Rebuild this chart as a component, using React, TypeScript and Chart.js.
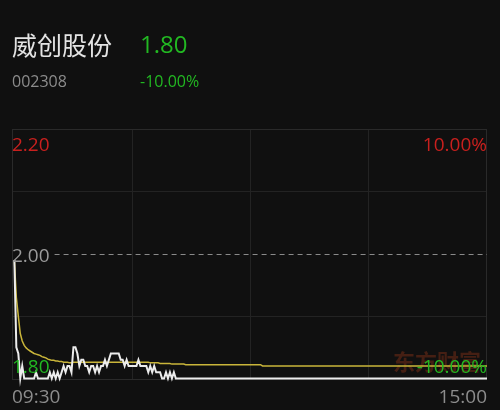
import React, { useEffect, useRef } from "react";
import { Chart, registerables } from "chart.js";

Chart.register(...registerables);

// Quote header
const stockName = "威创股份";
const stockCode = "002308";
const lastPrice = "1.80";
const changePct = "-10.00%";
const watermark = "东方财富";

// Price axis: previous close and daily limits
const prevClose = 2.0;
const priceHigh = 2.2;
const priceLow = 1.8;
const priceLevels = [2.2, 2.0, 1.8];
const priceLabels = ["2.20", "2.00", "1.80"];
const pctLabels = ["10.00%", "-10.00%"];
const gridPrices = [2.1, 1.9];

// Time axis: minutes since the open (240 trading minutes)
const gridMinutes = [60, 120, 180];
const timeLabels = ["09:30", "15:00"];

// Last price, one value per minute
const minutePrice = [
  1.99, 1.85, 1.84, 1.80, 1.82, 1.80, 1.80, 1.80, 1.80, 1.80, 1.80, 1.81, 1.80, 1.80, 1.80, 1.80, 1.80, 1.80, 1.81, 1.80,
  1.81, 1.80, 1.81, 1.80, 1.81, 1.82, 1.81, 1.82, 1.82, 1.81, 1.85, 1.85, 1.84, 1.82, 1.83, 1.83, 1.82, 1.82, 1.81, 1.82,
  1.82, 1.81, 1.82, 1.81, 1.82, 1.82, 1.83, 1.82, 1.83, 1.84, 1.84, 1.84, 1.84, 1.84, 1.83, 1.83, 1.82, 1.83, 1.82, 1.82,
  1.82, 1.82, 1.82, 1.83, 1.82, 1.82, 1.82, 1.82, 1.81, 1.82, 1.81, 1.82, 1.81, 1.81, 1.81, 1.80, 1.80, 1.81, 1.80, 1.81,
  1.80, 1.81, 1.80, 1.80, 1.80, 1.80, 1.80, 1.80, 1.80, 1.80, 1.80, 1.80, 1.80, 1.80, 1.80, 1.80, 1.80, 1.80, 1.80, 1.80,
  1.80, 1.80, 1.80, 1.80, 1.80, 1.80, 1.80, 1.80, 1.80, 1.80, 1.80, 1.80, 1.80, 1.80, 1.80, 1.80, 1.80, 1.80, 1.80, 1.80,
  1.80, 1.80, 1.80, 1.80, 1.80, 1.80, 1.80, 1.80, 1.80, 1.80, 1.80, 1.80, 1.80, 1.80, 1.80, 1.80, 1.80, 1.80, 1.80, 1.80,
  1.80, 1.80, 1.80, 1.80, 1.80, 1.80, 1.80, 1.80, 1.80, 1.80, 1.80, 1.80, 1.80, 1.80, 1.80, 1.80, 1.80, 1.80, 1.80, 1.80,
  1.80, 1.80, 1.80, 1.80, 1.80, 1.80, 1.80, 1.80, 1.80, 1.80, 1.80, 1.80, 1.80, 1.80, 1.80, 1.80, 1.80, 1.80, 1.80, 1.80,
  1.80, 1.80, 1.80, 1.80, 1.80, 1.80, 1.80, 1.80, 1.80, 1.80, 1.80, 1.80, 1.80, 1.80, 1.80, 1.80, 1.80, 1.80, 1.80, 1.80,
  1.80, 1.80, 1.80, 1.80, 1.80, 1.80, 1.80, 1.80, 1.80, 1.80, 1.80, 1.80, 1.80, 1.80, 1.80, 1.80, 1.80, 1.80, 1.80, 1.80,
  1.80, 1.80, 1.80, 1.80, 1.80, 1.80, 1.80, 1.80, 1.80, 1.80, 1.80, 1.80, 1.80, 1.80, 1.80, 1.80, 1.80, 1.80, 1.80, 1.80,
  1.80,
];

// Running average price, one value per minute
const minuteAverage = [
  1.99, 1.93, 1.90, 1.872, 1.860, 1.853, 1.849, 1.846, 1.844, 1.842, 1.840, 1.839, 1.838, 1.837, 1.835, 1.834, 1.833, 1.831, 1.830, 1.829,
  1.829, 1.828, 1.828, 1.827, 1.827, 1.826, 1.826, 1.826, 1.825, 1.825, 1.826, 1.826, 1.826, 1.826, 1.826, 1.826, 1.826, 1.826, 1.826, 1.826,
  1.826, 1.826, 1.826, 1.826, 1.826, 1.826, 1.826, 1.826, 1.826, 1.826, 1.826, 1.826, 1.826, 1.826, 1.826, 1.826, 1.826, 1.826, 1.826, 1.826,
  1.826, 1.826, 1.826, 1.826, 1.826, 1.826, 1.826, 1.826, 1.826, 1.825, 1.825, 1.825, 1.825, 1.825, 1.824, 1.824, 1.824, 1.824, 1.824, 1.824,
  1.823, 1.823, 1.823, 1.823, 1.823, 1.823, 1.823, 1.822, 1.822, 1.822, 1.822, 1.822, 1.822, 1.822, 1.822, 1.822, 1.822, 1.822, 1.822, 1.822,
  1.822, 1.822, 1.822, 1.822, 1.822, 1.822, 1.822, 1.822, 1.822, 1.822, 1.822, 1.822, 1.822, 1.822, 1.822, 1.822, 1.822, 1.822, 1.822, 1.822,
  1.822, 1.822, 1.822, 1.822, 1.822, 1.822, 1.820, 1.820, 1.820, 1.820, 1.820, 1.820, 1.820, 1.820, 1.820, 1.820, 1.820, 1.820, 1.820, 1.820,
  1.820, 1.820, 1.820, 1.820, 1.820, 1.820, 1.820, 1.820, 1.820, 1.820, 1.820, 1.820, 1.820, 1.820, 1.820, 1.820, 1.820, 1.820, 1.820, 1.820,
  1.820, 1.820, 1.820, 1.820, 1.820, 1.820, 1.820, 1.820, 1.820, 1.820, 1.820, 1.820, 1.820, 1.820, 1.820, 1.820, 1.820, 1.820, 1.820, 1.820,
  1.820, 1.820, 1.820, 1.820, 1.820, 1.820, 1.820, 1.820, 1.820, 1.820, 1.820, 1.820, 1.820, 1.820, 1.820, 1.820, 1.820, 1.820, 1.820, 1.820,
  1.820, 1.820, 1.820, 1.820, 1.820, 1.820, 1.820, 1.820, 1.820, 1.820, 1.820, 1.820, 1.820, 1.820, 1.820, 1.820, 1.820, 1.820, 1.820, 1.820,
  1.820, 1.820, 1.820, 1.820, 1.820, 1.820, 1.820, 1.820, 1.820, 1.820, 1.820, 1.820, 1.820, 1.820, 1.820, 1.820, 1.820, 1.820, 1.820, 1.820,
  1.820,
];

const BG = "#101010";
const RED = "#c8201e";
const GREEN = "#22b822";
const GRAY = "#8c8c8c";
const FRAME = "#2a2a2a";
const GRID = "#232323";
const LATIN = '"Open Sans", "Noto Sans", sans-serif';
const CJK = '"Noto Sans CJK SC", sans-serif';

// Frame, previous-close line, watermark and in-plot labels
const quoteOverlay = {
  id: "quoteOverlay",
  beforeDatasetsDraw(chart: any) {
    const { ctx, chartArea: a, scales } = chart;
    const y = scales.y;
    ctx.save();
    ctx.strokeStyle = FRAME;
    ctx.lineWidth = 1;
    ctx.strokeRect(a.left + 0.5, a.top + 0.5, a.right - a.left - 1, a.bottom - a.top - 1);

    ctx.font = `19px ${LATIN}`;
    const labelW = ctx.measureText(priceLabels[1]).width;
    const py = Math.round(y.getPixelForValue(prevClose)) + 0.5;
    ctx.strokeStyle = "#8a8a8a";
    ctx.setLineDash([5, 4]);
    ctx.beginPath();
    ctx.moveTo(a.left + labelW + 5, py);
    ctx.lineTo(a.right, py);
    ctx.stroke();
    ctx.setLineDash([]);

    ctx.font = `bold 22px ${CJK}`;
    ctx.fillStyle = "rgba(150, 55, 25, 0.4)";
    ctx.textAlign = "left";
    ctx.textBaseline = "alphabetic";
    ctx.fillText(watermark, a.right - 94, a.bottom - 10);
    ctx.restore();
  },
  afterDatasetsDraw(chart: any) {
    const { ctx, chartArea: a, scales } = chart;
    const y = scales.y;
    ctx.save();
    ctx.font = `19px ${LATIN}`;
    ctx.textBaseline = "alphabetic";

    const yTop = y.getPixelForValue(priceLevels[0]);
    const yMid = y.getPixelForValue(priceLevels[1]);
    const yBot = y.getPixelForValue(priceLevels[2]);

    ctx.textAlign = "left";
    ctx.fillStyle = RED;
    ctx.fillText(priceLabels[0], a.left, yTop + 22);
    ctx.fillStyle = "#9a9a9a";
    ctx.fillText(priceLabels[1], a.left, yMid + 8);
    ctx.fillStyle = GREEN;
    ctx.fillText(priceLabels[2], a.left, yBot - 5);

    ctx.textAlign = "right";
    ctx.fillStyle = RED;
    ctx.fillText(pctLabels[0], a.right, yTop + 22);
    ctx.fillStyle = GREEN;
    ctx.fillText(pctLabels[1], a.right, yBot - 5);

    ctx.fillStyle = GRAY;
    ctx.textAlign = "left";
    ctx.fillText(timeLabels[0], a.left, a.bottom + 23);
    ctx.textAlign = "right";
    ctx.fillText(timeLabels[1], a.right, a.bottom + 23);
    ctx.restore();
  },
};

export default function App() {
  const canvasRef = useRef<HTMLCanvasElement | null>(null);

  useEffect(() => {
    const canvas = canvasRef.current;
    if (!canvas) return;
    const chart = new Chart(canvas, {
      type: "line",
      data: {
        datasets: [
          {
            label: "均价",
            data: minuteAverage.map((v, i) => ({ x: i, y: v })),
            borderColor: "#c9b53a",
            borderWidth: 1.5,
            pointRadius: 0,
            tension: 0,
            clip: false,
            order: 1,
          },
          {
            label: "价格",
            data: minutePrice.map((v, i) => ({ x: i, y: v })),
            borderColor: "#ececec",
            borderWidth: 2,
            pointRadius: 0,
            tension: 0,
            clip: false,
            order: 0,
          },
        ],
      },
      options: {
        animation: false,
        responsive: false,
        devicePixelRatio: 1,
        layout: { padding: { left: 12, right: 13, top: 129, bottom: 30 } },
        plugins: { legend: { display: false }, tooltip: { enabled: false } },
        events: [],
        scales: {
          x: {
            type: "linear",
            min: -1.2,
            max: 240,
            afterBuildTicks: (scale: any) => {
              scale.ticks = gridMinutes.map((v) => ({ value: v }));
            },
            ticks: { display: false },
            grid: { color: GRID, drawTicks: false },
            border: { display: false },
          },
          y: {
            type: "linear",
            min: priceLow - 0.0025,
            max: priceHigh,
            afterBuildTicks: (scale: any) => {
              scale.ticks = gridPrices.map((v) => ({ value: v }));
            },
            ticks: { display: false },
            grid: { color: GRID, drawTicks: false },
            border: { display: false },
          },
        },
      },
      plugins: [quoteOverlay],
    });
    return () => chart.destroy();
  }, []);

  return (
    <div style={{ position: "fixed", left: 0, top: 0, width: 500, height: 410, background: BG, overflow: "hidden" }}>
      <canvas ref={canvasRef} width={500} height={410} style={{ position: "absolute", left: 0, top: 0, display: "block" }} />
      <div style={{ position: "absolute", left: 12, top: 32, fontFamily: CJK, fontSize: 25, lineHeight: "25px", color: "#e4e4e4", whiteSpace: "nowrap" }}>
        {stockName}
      </div>
      <div style={{ position: "absolute", left: 140, top: 32, fontFamily: LATIN, fontSize: 24, lineHeight: "24px", color: GREEN, whiteSpace: "nowrap" }}>
        {lastPrice}
      </div>
      <div style={{ position: "absolute", left: 12, top: 73, fontFamily: LATIN, fontSize: 16, lineHeight: "16px", color: GRAY, whiteSpace: "nowrap" }}>
        {stockCode}
      </div>
      <div style={{ position: "absolute", left: 140, top: 73, fontFamily: LATIN, fontSize: 16, lineHeight: "16px", color: GREEN, whiteSpace: "nowrap" }}>
        {changePct}
      </div>
    </div>
  );
}
